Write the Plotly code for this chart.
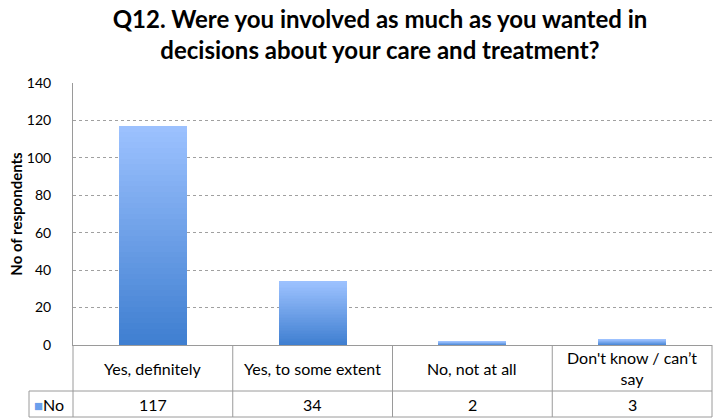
import plotly.graph_objects as go

# Survey responses
categories = ["Yes, definitely", "Yes, to some extent", "No, not at all", "Don't know / can’t say"]
table_labels = ["Yes, definitely", "Yes, to some extent", "No, not at all", "Don't know / can’t<br>say"]
counts = [117, 34, 2, 3]
series_name = "No"
y_ticks = [0, 20, 40, 60, 80, 100, 120, 140]

W, H = 713, 419
L, R, T, B = 73, 1, 83, 74
plot_w = W - L - R
plot_h = H - T - B

FONT = "Lato, 'Open Sans', sans-serif"
GRID = "#a0a0a0"
BORDER = "#9a9a9a"

# Per-bar vertical gradient: stack thin slices, dark at the base to light at the top
top_rgb = (157, 194, 255)
bot_rgb = (62, 126, 208)
N = 40
fig = go.Figure()
for i in range(N):
    t = (i + 0.5) / N
    c = tuple(round(bot_rgb[k] + (top_rgb[k] - bot_rgb[k]) * t) for k in range(3))
    fig.add_trace(go.Bar(
        x=categories,
        y=[v / N for v in counts],
        marker=dict(color=f"rgb{c}", line=dict(width=0)),
        showlegend=False,
        hoverinfo="skip",
        name=series_name,
    ))


def px_to_paper_x(px):
    return (px - L) / plot_w


def px_to_paper_y(py):
    return (H - B - py) / plot_h


line = dict(color=BORDER, width=1)
row1_top, row1_bot, row2_bot = H - B, H - B + 46, H - B + 72
key_left = 29

shapes = [
    # horizontal table rules
    dict(type="line", xref="paper", yref="paper", x0=px_to_paper_x(key_left), x1=1,
         y0=px_to_paper_y(row1_bot), y1=px_to_paper_y(row1_bot), line=line),
    dict(type="line", xref="paper", yref="paper", x0=px_to_paper_x(key_left), x1=1,
         y0=px_to_paper_y(row2_bot), y1=px_to_paper_y(row2_bot), line=line),
    # left edge of the legend-key cell
    dict(type="line", xref="paper", yref="paper", x0=px_to_paper_x(key_left), x1=px_to_paper_x(key_left),
         y0=px_to_paper_y(row1_bot), y1=px_to_paper_y(row2_bot), line=line),
]
for k in range(len(categories) + 1):
    xf = k / len(categories)
    shapes.append(dict(type="line", xref="paper", yref="paper", x0=xf, x1=xf,
                       y0=0, y1=px_to_paper_y(row2_bot), line=line))

annotations = []
for k, lab in enumerate(table_labels):
    xc = (k + 0.5) / len(categories)
    annotations.append(dict(xref="paper", yref="paper", x=xc, xanchor="center",
                            y=px_to_paper_y((row1_top + row1_bot) / 2), yanchor="middle",
                            text=lab, showarrow=False, align="center",
                            font=dict(size=16, color="#000", family=FONT)))
    annotations.append(dict(xref="paper", yref="paper", x=xc, xanchor="center",
                            y=px_to_paper_y((row1_bot + row2_bot) / 2), yanchor="middle",
                            text=str(counts[k]), showarrow=False,
                            font=dict(size=16, color="#000", family=FONT)))
# legend key in the table
annotations.append(dict(xref="paper", yref="paper", x=px_to_paper_x(key_left + 3), xanchor="left",
                        y=px_to_paper_y((row1_bot + row2_bot) / 2), yanchor="middle",
                        text="<span style='color:#6a9fec;font-size:15px'>■</span>" + series_name,
                        showarrow=False, font=dict(size=16, color="#000", family=FONT)))

fig.update_layout(
    width=W, height=H,
    margin=dict(l=L, r=R, t=T, b=B),
    paper_bgcolor="white", plot_bgcolor="white",
    barmode="stack", bargap=0.575,
    title=dict(
        text="<b>Q12. Were you involved as much as you wanted in<br>decisions about your care and treatment?</b>",
        x=380 / W, xanchor="center", xref="container",
        y=1 - 28 / H, yanchor="middle", yref="container",
        font=dict(size=24, color="#000", family=FONT),
    ),
    xaxis=dict(showticklabels=False, showline=True, linecolor=BORDER, linewidth=1,
               ticks="", showgrid=False, zeroline=False),
    yaxis=dict(range=[0, 140], tickvals=y_ticks, showgrid=True, gridcolor=GRID, griddash="dot",
               gridwidth=1, showline=True, linecolor=BORDER, linewidth=1, zeroline=False,
               ticks="", ticklabelstandoff=18,
               tickfont=dict(size=14, color="#000", family=FONT),
               title=dict(text="<b>No of respondents</b>", standoff=0,
                          font=dict(size=15, color="#000", family=FONT))),
    shapes=shapes,
    annotations=annotations,
)

fig.write_html("out.html")
